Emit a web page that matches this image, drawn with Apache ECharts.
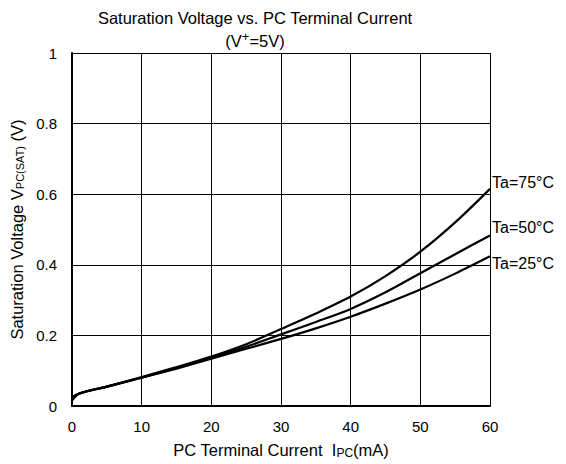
<!DOCTYPE html>
<html>
<head>
<meta charset="utf-8">
<script src="https://cdn.jsdelivr.net/npm/echarts@6/dist/echarts.min.js"></script>
<style>
  html, body { margin: 0; padding: 0; background: #fff; }
  #chart { width: 566px; height: 464px; }
</style>
</head>
<body>
<div id="chart"></div>
<script>
// current in mA
const current = [0, 1, 5, 10, 15, 20, 25, 30, 35, 40, 45, 50, 55, 60];
// saturation voltage (V) per ambient temperature
const ta75 = [0.015, 0.035, 0.055, 0.082, 0.11, 0.14, 0.175, 0.218, 0.262, 0.31, 0.368, 0.437, 0.52, 0.615];
const ta50 = [0.02, 0.035, 0.055, 0.08, 0.108, 0.137, 0.168, 0.203, 0.238, 0.275, 0.322, 0.376, 0.43, 0.483];
const ta25 = [0.025, 0.035, 0.055, 0.08, 0.106, 0.134, 0.162, 0.19, 0.22, 0.253, 0.29, 0.33, 0.375, 0.424];
const seriesNames = ['Ta=75°C', 'Ta=50°C', 'Ta=25°C'];
const labelOffsets = [[2, -6], [2, -8], [2, 7]];

const font = '"Liberation Sans", Arial, sans-serif';

function pairs(ys) {
  return current.map((x, i) => [x, ys[i]]);
}

const chart = echarts.init(document.getElementById('chart'), null, { renderer: 'svg' });

const seriesData = [ta75, ta50, ta25].map((ys, i) => ({
  name: seriesNames[i],
  type: 'line',
  data: pairs(ys),
  smooth: 0.3,
  showSymbol: false,
  lineStyle: { color: '#000', width: 2.2 },
  endLabel: {
    show: true,
    formatter: seriesNames[i],
    distance: 0,
    offset: labelOffsets[i],
    color: '#000',
    fontFamily: font,
    fontSize: 16
  },
  animation: false
}));

chart.setOption({
  animation: false,
  title: {
    text: 'Saturation Voltage vs. PC Terminal Current',
    subtext: '(V{sup|+}=5V)',
    left: 250,
    textAlign: 'center',
    top: 4,
    itemGap: 4,
    textStyle: { fontFamily: font, fontSize: 16.5, fontWeight: 'normal', color: '#000' },
    subtextStyle: {
      fontFamily: font, fontSize: 16.5, color: '#000',
      rich: { sup: { fontFamily: font, fontSize: 13, color: '#000', verticalAlign: 'top', padding: [0, 0, 9, 0] } }
    }
  },
  grid: { left: 72, right: 76, top: 53, bottom: 55 },
  xAxis: {
    type: 'value',
    min: 0, max: 60, interval: 10,
    name: 'PC Terminal Current  I{sub|PC}(mA)',
    nameLocation: 'middle',
    nameGap: 35,
    nameTextStyle: {
      fontFamily: font, fontSize: 16.5, color: '#000',
      rich: { sub: { fontFamily: font, fontSize: 12, color: '#000', padding: [6, 0, 0, 0] } }
    },
    axisLine: { lineStyle: { color: '#000', width: 2 } },
    axisTick: { show: false },
    axisLabel: { color: '#000', fontFamily: font, fontSize: 15, margin: 13 },
    splitLine: { lineStyle: { color: '#000', width: 1 } }
  },
  yAxis: {
    type: 'value',
    min: 0, max: 1, interval: 0.2,
    name: 'Saturation Voltage V{sub|PC(SAT)} (V)',
    nameLocation: 'middle',
    nameGap: 47,
    nameTextStyle: {
      fontFamily: font, fontSize: 16.5, color: '#000',
      rich: { sub: { fontFamily: font, fontSize: 11, color: '#000', padding: [6, 0, 0, 0] } }
    },
    axisLine: { show: true, lineStyle: { color: '#000', width: 2 } },
    axisTick: { show: false },
    axisLabel: { color: '#000', fontFamily: font, fontSize: 15, margin: 15 },
    splitLine: { lineStyle: { color: '#000', width: 1 } }
  },
  series: seriesData
});
</script>
</body>
</html>
